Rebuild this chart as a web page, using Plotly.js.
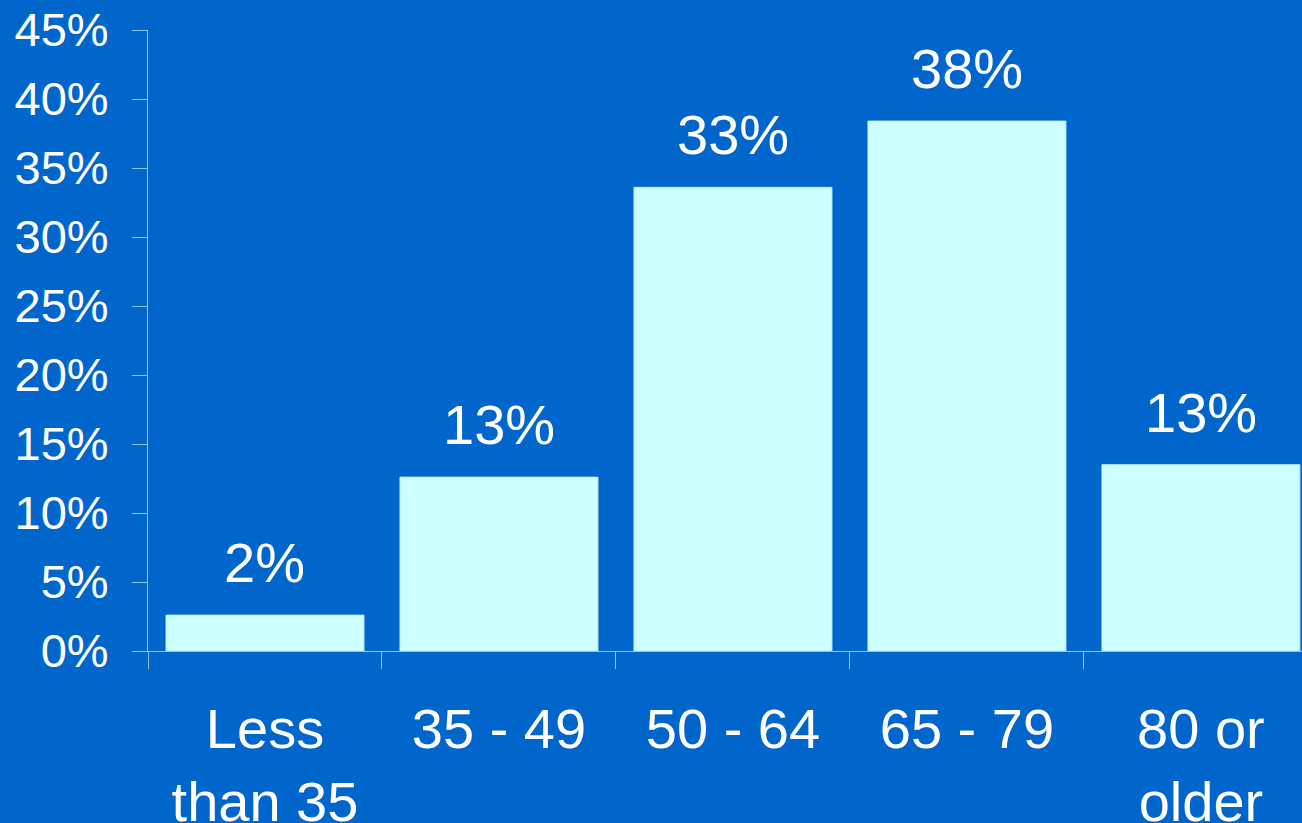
<!DOCTYPE html>
<html>
<head>
<meta charset="utf-8">
<script src="https://cdn.plot.ly/plotly-3.0.1.min.js"></script>
<style>html,body{margin:0;padding:0;background:#0066CC;}#chart{width:1302px;height:823px;}</style>
</head>
<body>
<div id="chart"></div>
<script>
const categories = ["Less<br>than 35", "35 - 49", "50 - 64", "65 - 79", "80 or<br>older"];
const values = [2.6, 12.6, 33.6, 38.4, 13.5];
const valueLabels = ["2%", "13%", "33%", "38%", "13%"];
const yTickVals = [0, 5, 10, 15, 20, 25, 30, 35, 40, 45];
const yTickText = ["0%", "5%", "10%", "15%", "20%", "25%", "30%", "35%", "40%", "45%"];

const FONT = "Liberation Sans, Arial, Helvetica, sans-serif";
const axisCol = "#8EC6EE";

const trace = {
  type: "bar",
  x: categories,
  y: values,
  marker: {color: "#CCFFFF", line: {color: "#BFEFF5", width: 1}},
  hoverinfo: "none"
};

const annotations = categories.map((c, i) => ({
  x: c, y: values[i], xref: "x", yref: "y",
  text: valueLabels[i], showarrow: false,
  yanchor: "bottom", yshift: 19,
  font: {family: FONT, size: 56, color: "#FFFFFF"}
}));

const layout = {
  width: 1302, height: 823,
  paper_bgcolor: "#0066CC", plot_bgcolor: "#0066CC",
  margin: {l: 148, r: 0, t: 30, b: 172},
  bargap: 0.154,
  showlegend: false,
  font: {family: FONT, color: "#FFFFFF"},
  xaxis: {
    type: "category",
    range: [-0.5, 4.432],
    showline: true, linecolor: axisCol, linewidth: 1,
    ticks: "outside", tickson: "boundaries", ticklen: 17, tickcolor: axisCol, tickwidth: 1,
    tickfont: {family: FONT, size: 56, color: "#FFFFFF"},
    ticklabelstandoff: 29,
    showgrid: false, zeroline: false, fixedrange: true
  },
  yaxis: {
    range: [0, 45],
    tickmode: "array", tickvals: yTickVals, ticktext: yTickText,
    showline: true, linecolor: axisCol, linewidth: 1,
    ticks: "outside", ticklen: 15, tickcolor: axisCol, tickwidth: 1,
    tickfont: {family: FONT, size: 47, color: "#FFFFFF"},
    ticklabelstandoff: 14,
    showgrid: false, zeroline: false, fixedrange: true
  },
  annotations: annotations
};

Plotly.newPlot("chart", [trace], layout, {displayModeBar: false, staticPlot: true});
</script>
</body>
</html>
